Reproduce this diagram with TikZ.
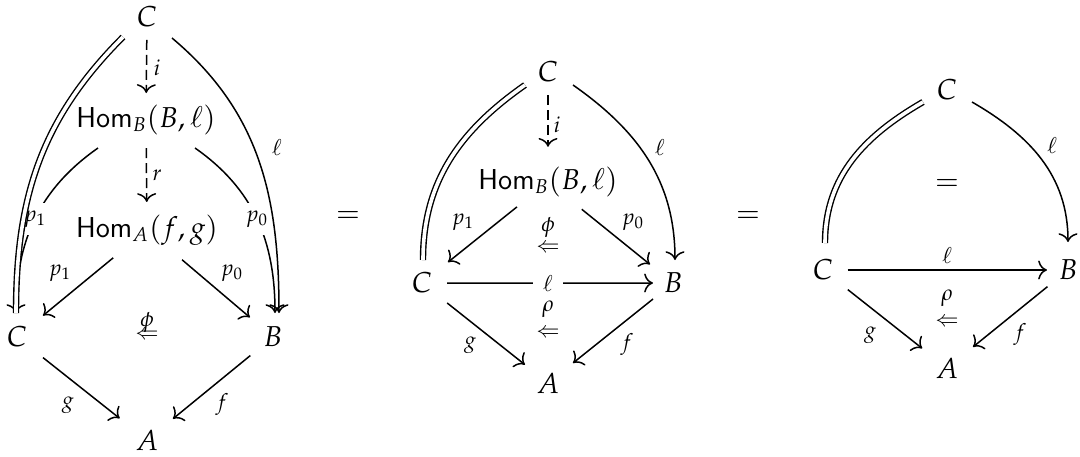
\documentclass[tikz,border=0pt]{standalone}
\usepackage{mathpazo}
\usetikzlibrary{calc,arrows.meta}
\tikzset{
 obj/.style={inner sep=0pt, font=\fontsize{14.4}{17}\selectfont},
 lbl/.style={inner sep=0pt, font=\fontsize{11}{13}\selectfont},
 desc/.style={lbl, fill=white, inner xsep=1pt, inner ysep=4pt},
 arr/.style={line width=0.75pt, -{Computer Modern Rightarrow[length=4.4pt,width=9.5pt]}},
 dasharr/.style={arr, dash pattern=on 5pt off 2.5pt},
 eqline/.style={line width=0.7pt, double, double distance=1.8pt},
}
\begin{document}
\begin{tikzpicture}[x=0.5pt,y=0.5pt]
\useasboundingbox (0,0) rectangle (1080,-456);

% ---------- Diagram 1 ----------
\node[obj] (c1t) at (147,-17) {$C$};
\node[obj] (h1b) at (146,-120) {$\mathsf{Hom}_B(B,\ell)$};
\node[obj] (h1a) at (147,-230) {$\mathsf{Hom}_A(f,g)$};
\node[obj] (c1l) at (17,-337) {$C$};
\node[obj] (b1) at (273,-337) {$B$};
\node[obj] (a1) at (147,-440) {$A$};

\draw[dasharr] ($(c1t)!0.223!(h1b)$) -- ($(c1t)!0.738!(h1b)$);
\node[lbl] (li1) at (157,-68) {$i$};
\draw[dasharr] ($(h1b)!0.255!(h1a)$) -- ($(h1b)!0.745!(h1a)$);
\node[lbl] (lr1) at (157,-175) {$r$};

\draw[arr] ($(h1a)!0.26!(c1l)$) -- ($(h1a)!0.80!(c1l)$);
\node[lbl] (lp1a) at (60,-273) {$p_1$};
\draw[arr] ($(h1a)!0.278!(b1)$) -- ($(h1a)!0.817!(b1)$);
\node[lbl] (lp0a) at (232,-273) {$p_0$};

\draw[arr] ($(c1l)!0.2!(a1)$) -- ($(c1l)!0.79!(a1)$);
\node[lbl] (lg1) at (68,-405) {$g$};
\draw[arr] ($(b1)!0.18!(a1)$) -- ($(b1)!0.794!(a1)$);
\node[lbl] (lf1) at (222,-405) {$f$};

\node[lbl] (phi1) at (147,-322) {$\phi$};
\node[lbl] (tw1) at (147,-335) {$\Leftarrow$};

\draw[arr] ($(h1b)+(-48,-28)$) to[out=215,in=90] node[desc,pos=0.5] (lp1b) {$p_1$} ($(c1l)+(-1,24)$);
\draw[arr] ($(h1b)+(49,-28)$) to[out=-35,in=90] node[desc,pos=0.5] (lp0b) {$p_0$} ($(b1)+(2,24)$);
\draw[arr] ($(c1t)+(25,-21)$) to[out=-40,in=90] ($(b1)+(6,24)$);
\node[lbl] (ll1) at (277,-147) {$\ell$};
\draw[eqline] ($(c1t)+(-24,-20)$) to[out=225,in=90] ($(c1l)+(-1,24)$);

\node[obj] (eq1) at (348,-217) {$=$};

% ---------- Diagram 2 ----------
\node[obj] (c2t) at (548,-72) {$C$};
\node[obj] (h2) at (548,-182) {$\mathsf{Hom}_B(B,\ell)$};
\node[obj] (c2l) at (422,-283) {$C$};
\node[obj] (b2) at (673,-283) {$B$};
\node[obj] (a2) at (548,-383) {$A$};

\draw[dasharr] ($(c2t)!0.21!(h2)$) -- ($(c2t)!0.68!(h2)$);
\node[lbl] (li2) at (557,-125) {$i$};
\draw[arr] ($(h2)!0.246!(c2l)$) -- ($(h2)!0.794!(c2l)$);
\node[lbl] (lp12) at (463,-222) {$p_1$};
\draw[arr] ($(h2)!0.27!(b2)$) -- ($(h2)!0.816!(b2)$);
\node[lbl] (lp02) at (633,-222) {$p_0$};
\draw[arr] ($(c2l)!0.1!(b2)$) -- ($(c2l)!0.92!(b2)$);
\node[desc, inner xsep=5pt, inner ysep=1pt] (ll2h) at (548,-283) {$\ell$};
\draw[arr] ($(c2l)!0.2!(a2)$) -- ($(c2l)!0.817!(a2)$);
\node[lbl] (lg2) at (470,-345) {$g$};
\draw[arr] ($(b2)!0.16!(a2)$) -- ($(b2)!0.8!(a2)$);
\node[lbl] (lf2) at (627,-345) {$f$};

\node[lbl] (phi2) at (548,-227) {$\phi$};
\node[lbl] (tw2a) at (548,-248) {$\Leftarrow$};
\node[lbl] (rho2) at (548,-309) {$\rho$};
\node[lbl] (tw2b) at (548,-333) {$\Leftarrow$};

\draw[eqline] ($(c2t)+(-23,-13)$) to[out=215,in=90] ($(c2l)+(1,23)$);
\draw[arr] ($(c2t)+(25,-13)$) to[out=-35,in=90] ($(b2)+(2,23)$);
\node[lbl] (ll2) at (660,-147) {$\ell$};

\node[obj] (eq2) at (748,-217) {$=$};

% ---------- Diagram 3 ----------
\node[obj] (c3t) at (947,-90) {$C$};
\node[obj] (c3l) at (823,-270) {$C$};
\node[obj] (b3) at (1068,-270) {$B$};
\node[obj] (a3) at (947,-368) {$A$};
\node[obj] (eq3) at (947,-185) {$=$};

\draw[arr] ($(c3l)!0.1!(b3)$) -- ($(c3l)!0.914!(b3)$);
\node[lbl] (ll3h) at (947,-255) {$\ell$};
\draw[arr] ($(c3l)!0.2!(a3)$) -- ($(c3l)!0.8!(a3)$);
\node[lbl] (lg3) at (870,-335) {$g$};
\draw[arr] ($(b3)!0.17!(a3)$) -- ($(b3)!0.785!(a3)$);
\node[lbl] (lf3) at (1020,-335) {$f$};

\node[lbl] (rho3) at (947,-298) {$\rho$};
\node[lbl] (tw3) at (947,-322) {$\Leftarrow$};

\draw[eqline] ($(c3t)+(-24,-12)$) to[out=210,in=90] ($(c3l)+(2,27)$);
\draw[arr] ($(c3t)+(25,-12)$) to[out=-30,in=90] ($(b3)+(0,28)$);
\node[lbl] (ll3) at (1052,-145) {$\ell$};
\end{tikzpicture}
\end{document}
